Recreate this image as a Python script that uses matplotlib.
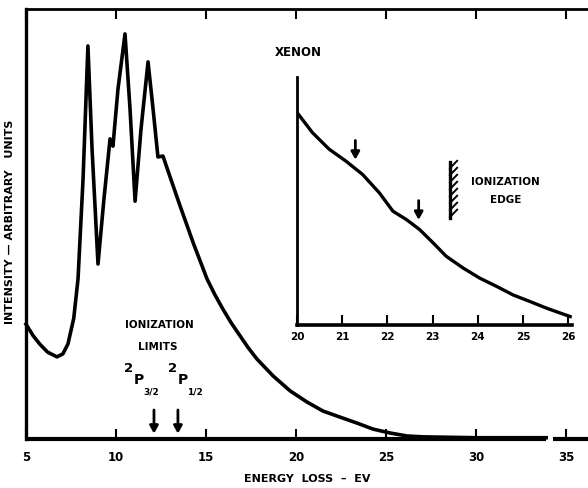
import matplotlib
matplotlib.use("Agg")
import matplotlib.pyplot as plt
import numpy as np

# ---- data ----
main_ev = [5.0, 5.4, 5.78, 6.2, 6.72, 7.05, 7.33, 7.65, 7.89, 8.17, 8.44, 8.67, 9.0, 9.33, 9.67, 9.83,
           10.11, 10.5, 10.78, 11.06, 11.39, 11.78, 12.06, 12.33, 12.61, 13.0, 13.56, 14.3, 15.06, 15.5, 15.94,
           16.4, 16.89, 17.35, 17.83, 18.72, 19.67, 20.61, 21.5, 22.44, 23.39, 24.28, 25.22, 26.17, 27.06,
           30.0, 33.9]
main_int = [26.7, 24.0, 22.0, 20.2, 19.1, 19.8, 22.1, 28.0, 37.2, 60.5, 91.4, 67.4, 40.7, 55.8, 69.8, 68.1,
            81.4, 94.2, 76.7, 55.3, 72.1, 87.7, 76.7, 65.6, 65.8, 61.0, 54.2, 45.5, 37.2, 33.5, 30.2,
            27.0, 24.0, 21.2, 18.6, 14.7, 11.2, 8.6, 6.5, 5.1, 3.7, 2.3, 1.4, 0.7, 0.5,
            0.3, 0.3]

inset_ev = [20.0, 20.34, 20.71, 21.08, 21.45, 21.82, 22.12, 22.42, 22.71, 23.01, 23.30, 23.67, 24.04,
            24.42, 24.78, 25.16, 25.53, 26.04]
inset_int = [85.7, 77.6, 70.9, 66.1, 60.7, 53.3, 45.9, 42.5, 38.5, 33.1, 27.7, 23.0, 18.9,
             15.5, 12.1, 9.4, 6.7, 3.4]

main_ticks = [5, 10, 15, 20, 25, 30, 35]
main_ticklabels = ["5", "10", "15", "20", "25", "30", "35"]
inset_ticks = [20, 21, 22, 23, 24, 25, 26]
inset_ticklabels = ["20", "21", "22", "23", "24", "25", "26"]

limits_ev = [12.11, 13.44]        # 2P3/2, 2P1/2 ionization limits
limit_fracs = ["3/2", "1/2"]
inset_arrows_ev = [21.29, 22.69]
edge_ev = 23.38

# ---- figure ----
plt.rcParams['font.family'] = ['DejaVu Sans']
plt.rcParams['font.weight'] = 'bold'
fig = plt.figure(figsize=(5.88, 4.89), dpi=100)

W, H = 588.0, 489.0
ax = fig.add_axes([26 / W, 1 - 440 / H, (588 - 26) / W, (440 - 10) / H])
ax.set_xlim(5, 5 + 562 / 18.0)
ax.set_ylim(0, 100)
ax.plot(main_ev, main_int, color='black', lw=2.6, solid_joinstyle='round', clip_on=False)

for s in ['right', 'bottom']:
    ax.spines[s].set_visible(False)
ax.spines['left'].set_linewidth(2.4)
ax.spines['top'].set_linewidth(2.0)
# broken bottom axis
bt = ax.get_xaxis_transform()
ax.plot([5, 33.9], [0, 0], color='black', lw=3.0, transform=bt, clip_on=False, solid_capstyle='butt')
ax.plot([34.3, 36.3], [0, 0], color='black', lw=3.0, transform=bt, clip_on=False, solid_capstyle='butt')

ax.set_xticks(main_ticks)
ax.set_xticklabels(main_ticklabels, fontsize=8.5, fontweight='heavy')
ax.tick_params(axis='x', direction='in', length=7, width=1.5, pad=8, top=True, bottom=True)
ax.set_yticks([])

ax.set_xlabel("ENERGY  LOSS  –  EV", fontsize=8, fontweight='heavy', labelpad=7)
fig.text(10 / W, 1 - 222 / H, "INTENSITY — ARBITRARY   UNITS", rotation=90, ha='center', va='center',
         fontsize=8, fontweight='heavy')

# ionization limit annotations
ax.text(12.4, (440 - 325) / 4.3, "IONIZATION", ha='center', va='center', fontsize=7.5, fontweight='heavy')
ax.text(12.3, (440 - 347) / 4.3, "LIMITS", ha='center', va='center', fontsize=7.5, fontweight='heavy')
for e, frac, dx in zip(limits_ev, limit_fracs, [-1.4, -0.3]):
    x0 = e + dx
    ax.text(x0, (440 - 369) / 4.3, "2", ha='center', va='center', fontsize=9.5, fontweight='heavy')
    ax.text(x0 + 0.55, (440 - 380) / 4.3, "P", ha='center', va='center', fontsize=10, fontweight='heavy')
    ax.text(x0 + 1.25, (440 - 392) / 4.3, frac, ha='center', va='center', fontsize=6.5, fontweight='heavy')
for e in limits_ev:
    ax.annotate('', xy=(e, 0.6), xytext=(e, 7.4),
                arrowprops=dict(arrowstyle='-|>,head_width=0.25,head_length=0.45', color='black', lw=2.0))

# ---- inset ----
ax2 = fig.add_axes([297 / W, 1 - 326 / H, 275 / W, (326 - 78) / H])
ax2.set_xlim(20, 26.08)
ax2.set_ylim(0, 100)
ax2.patch.set_alpha(0)
ax2.plot(inset_ev, inset_int, color='black', lw=2.4, solid_joinstyle='round')
for s in ['right', 'top']:
    ax2.spines[s].set_visible(False)
ax2.spines['left'].set_linewidth(2.0)
ax2.spines['bottom'].set_linewidth(2.6)
ax2.set_xticks(inset_ticks)
ax2.set_xticklabels(inset_ticklabels, fontsize=7.5, fontweight='heavy')
ax2.tick_params(axis='x', direction='in', length=7, width=1.5, pad=4)
ax2.set_yticks([])

for e in inset_arrows_ev:
    y_tip = np.interp(e, inset_ev, inset_int) + 2.5
    ax2.annotate('', xy=(e, y_tip), xytext=(e, y_tip + 10),
                 arrowprops=dict(arrowstyle='-|>,head_width=0.25,head_length=0.45', color='black', lw=2.0))

# ionization edge with hatching
y0, y1 = 43.0, 65.7
ax2.plot([edge_ev, edge_ev], [y0, y1], color='black', lw=2.4)
for yy in np.linspace(y0 + 0.5, y1 - 2.5, 8):
    ax2.plot([edge_ev, edge_ev + 0.16], [yy, yy + 3.0], color='black', lw=1.4)
ax2.text(24.6, (326 - 182) / 2.48, "IONIZATION", ha='center', va='center', fontsize=7.5, fontweight='heavy')
ax2.text(24.62, (326 - 200) / 2.48, "EDGE", ha='center', va='center', fontsize=7.5, fontweight='heavy')

fig.text(298 / W, 1 - 53 / H, "XENON", ha='center', va='center', fontsize=8.5, fontweight='heavy')

fig.savefig("out.png", dpi=100)
